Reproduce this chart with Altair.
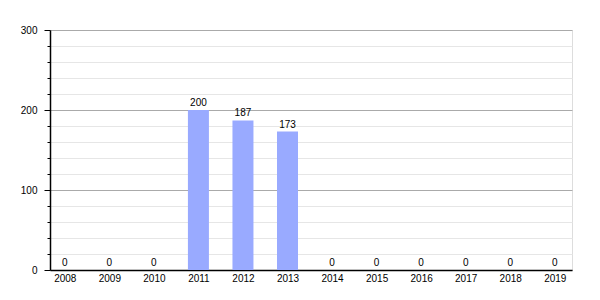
import altair as alt
import pandas as pd

years = [2008, 2009, 2010, 2011, 2012, 2013, 2014, 2015, 2016, 2017, 2018, 2019]
values = [0, 0, 0, 200, 187, 173, 0, 0, 0, 0, 0, 0]

df = pd.DataFrame({"year": years, "value": values})

FONT = "Liberation Sans"

x = alt.X("year:Q", scale=alt.Scale(domain=[2007.78, 2019.275], nice=False, zero=False),
          axis=alt.Axis(values=years, format="d", title=None, grid=False, ticks=False,
                        labelPadding=3, labelFontSize=10, labelColor="black", labelFont=FONT,
                        domainColor="black", domainWidth=1.5, labelFlush=False))
y = alt.Y("value:Q", scale=alt.Scale(domain=[0, 300], nice=False),
          axis=alt.Axis(values=list(range(0, 301, 20)), title=None,
                        labelExpr="datum.value % 100 === 0 ? datum.label : ''",
                        labelOverlap=False,
                        labelFontSize=10, labelColor="black", labelFont=FONT, labelPadding=7,
                        tickSize={"condition": {"test": "datum.value % 100 === 0", "value": 6}, "value": 3},
                        tickColor="black",
                        domainColor="black", domainWidth=1.5,
                        gridColor={"condition": {"test": "datum.value % 100 === 0", "value": "#aaaaaa"}, "value": "#e6e6e6"}))

base = alt.Chart(df).encode(x=x, y=y)
bars = base.mark_bar(size=21, color="#99aaff")
labels = base.mark_text(dy=-7, fontSize=10, font=FONT, color="black").encode(text="value:Q")

chart = alt.layer(bars, labels).properties(
    width=522, height=240,
    autosize=alt.AutoSizeParams(type="none"),
    padding={"left": 50, "top": 30, "right": 28, "bottom": 30},
).configure_view(stroke=None).configure(background="white")

chart.save("out.html", embed_options={"renderer": "svg", "actions": False})
